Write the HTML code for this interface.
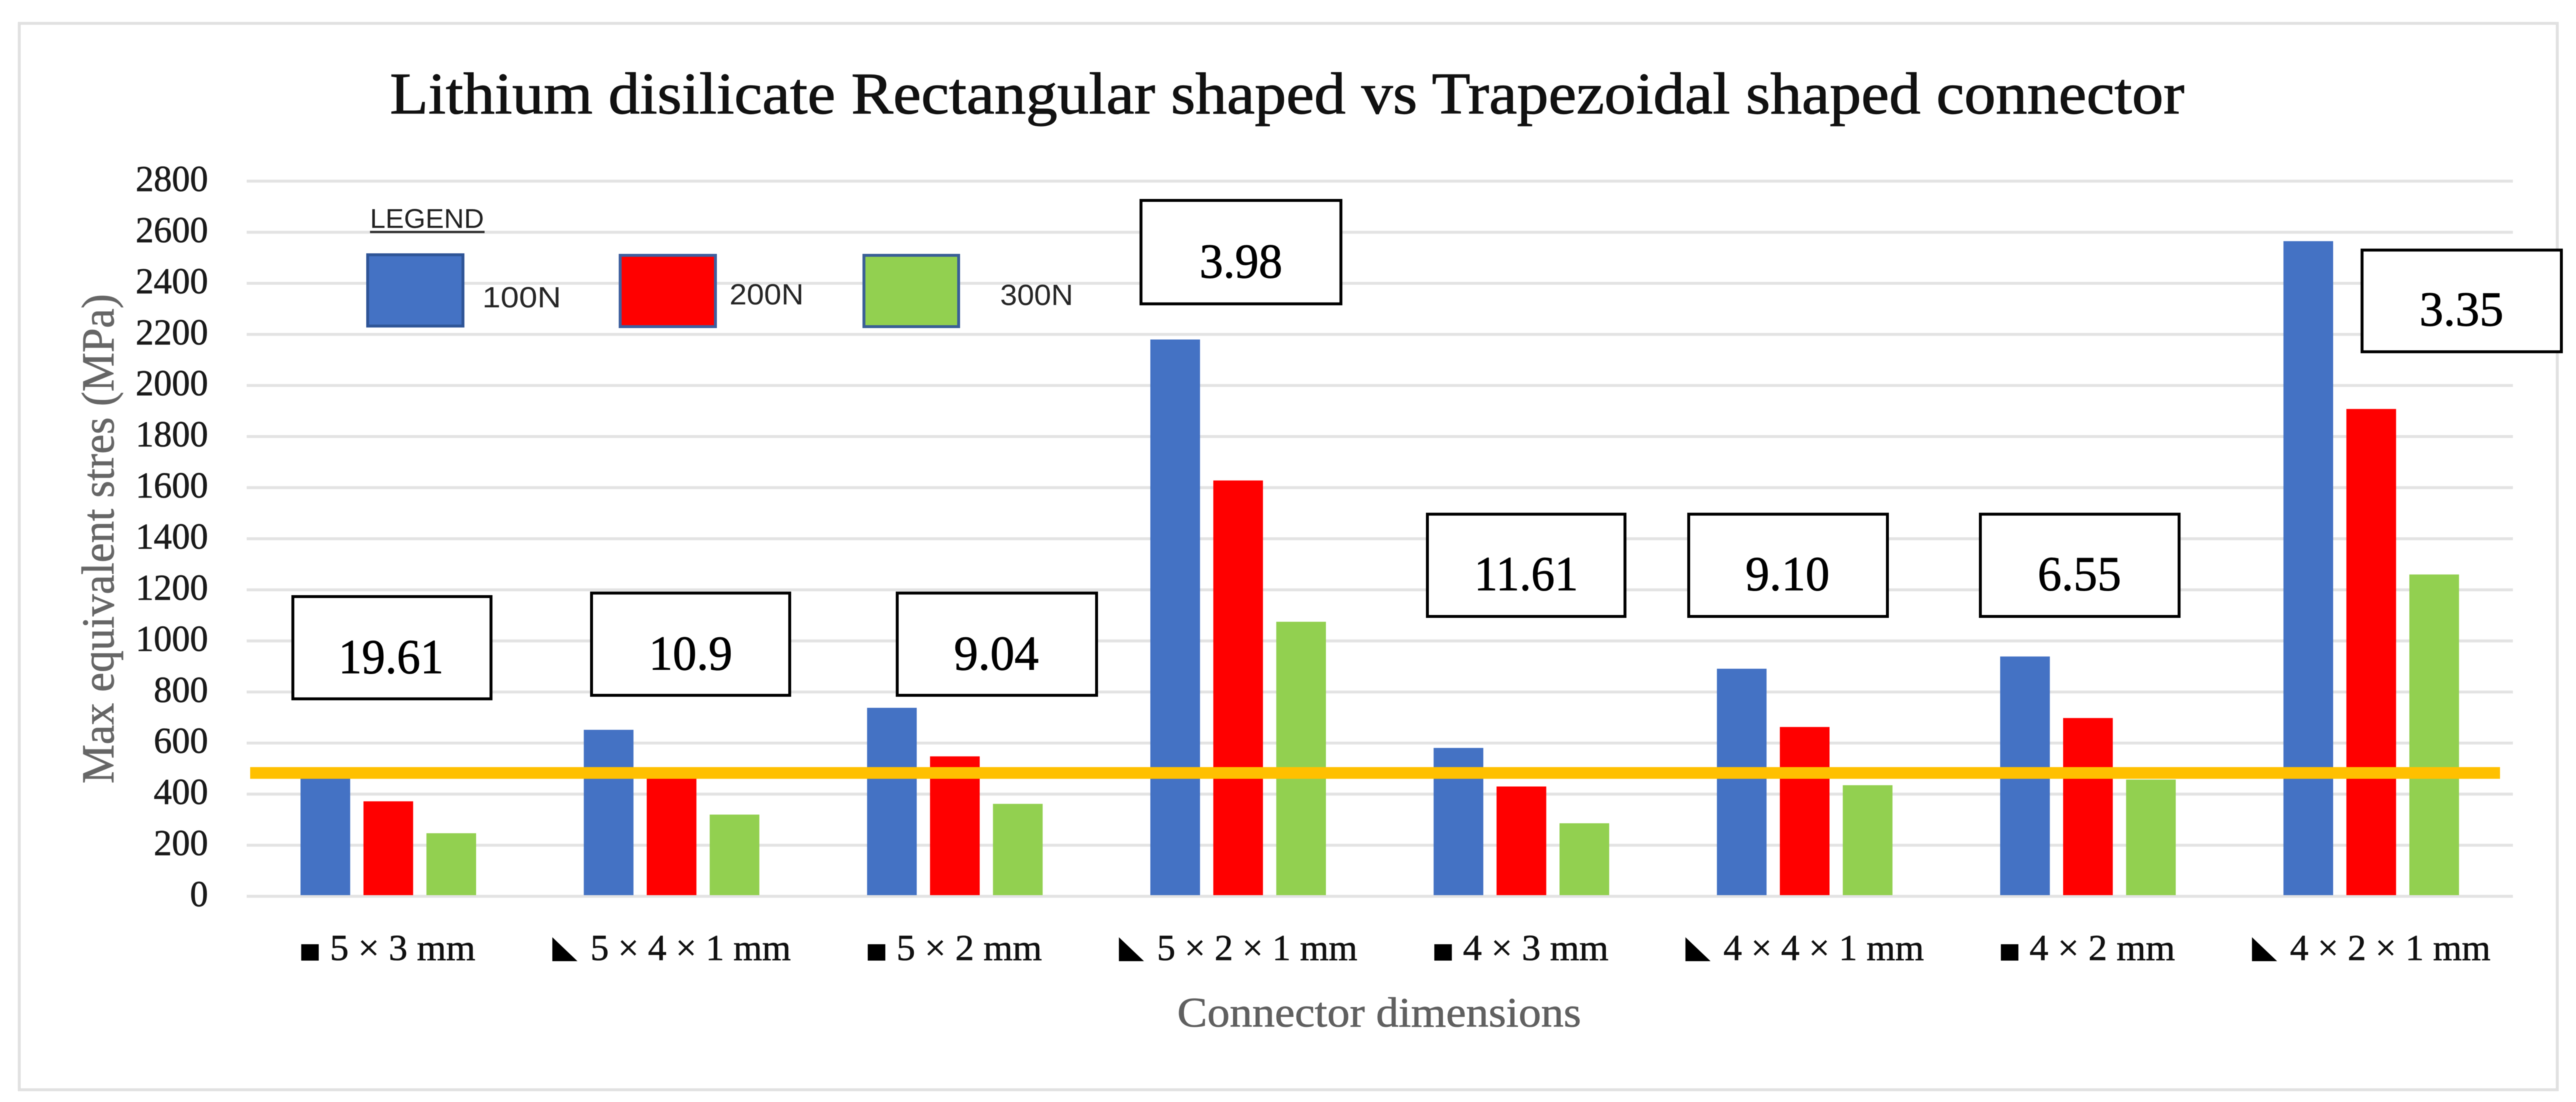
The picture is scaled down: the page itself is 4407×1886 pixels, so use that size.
<!DOCTYPE html>
<html lang="en">
<head>
<meta charset="utf-8">
<title>Lithium disilicate Rectangular shaped vs Trapezoidal shaped connector</title>
<style>
  html, body { margin: 0; padding: 0; background: #ffffff; }
  body { width: 4407px; height: 1886px; overflow: hidden; }
  svg { display: block; filter: blur(0.8px); }
  text { font-family: "Liberation Serif", serif; }
  .sans { font-family: "Liberation Sans", sans-serif; }
</style>
</head>
<body>
<svg id="chart" xmlns="http://www.w3.org/2000/svg" width="4407" height="1886" viewBox="0 0 4407 1886">
  <rect x="0" y="0" width="4407" height="1886" fill="#ffffff"/>
  <rect x="33" y="40" width="4342" height="1825" fill="#ffffff" stroke="#e1e1e1" stroke-width="5"/>
  <text x="667" y="194" font-size="101" fill="#111111" stroke="#111111" stroke-width="1.2" textLength="3070" lengthAdjust="spacingAndGlyphs">Lithium disilicate Rectangular shaped vs Trapezoidal shaped connector</text>
  <text transform="translate(194 1341) rotate(-90)" font-size="78" fill="#666666" stroke="#666666" stroke-width="0.8" textLength="838" lengthAdjust="spacingAndGlyphs">Max equivalent stres (MPa)</text>
  <text x="2014" y="1757" font-size="72" fill="#606060" stroke="#606060" stroke-width="0.8" textLength="691" lengthAdjust="spacingAndGlyphs">Connector dimensions</text>
  <g id="grid-layer"></g>
  <g id="ytick-layer"></g>
  <g id="bar-layer"></g>
  <g id="xtick-layer"></g>
  <g id="limit-layer"></g>

  <g>
    <text class="sans" x="633" y="390" font-size="46" fill="#222222" textLength="195" lengthAdjust="spacingAndGlyphs">LEGEND</text>
    <rect x="633" y="395" width="196" height="4" fill="#333333"/>
    <rect x="629" y="436" width="163" height="122" fill="#4472c4" stroke="#2f5597" stroke-width="5"/>
    <text class="sans" x="825" y="526" font-size="50" fill="#262626" textLength="135" lengthAdjust="spacingAndGlyphs">100N</text>
    <rect x="1061" y="437" width="163" height="122" fill="#ff0000" stroke="#3f5f9f" stroke-width="5"/>
    <text class="sans" x="1248" y="521" font-size="50" fill="#262626" textLength="127" lengthAdjust="spacingAndGlyphs">200N</text>
    <rect x="1478" y="437" width="162" height="122" fill="#92d050" stroke="#3a5f96" stroke-width="5"/>
    <text class="sans" x="1711" y="522" font-size="50" fill="#262626" textLength="125" lengthAdjust="spacingAndGlyphs">300N</text>
  </g>

  <g fill="#ffffff" stroke="#000000" stroke-width="5">
    <rect x="501" y="1021" width="339" height="175"/>
    <rect x="1012" y="1015" width="339" height="175"/>
    <rect x="1535" y="1015" width="341" height="175"/>
    <rect x="1952" y="343" width="342" height="177"/>
    <rect x="2442" y="880" width="338" height="175"/>
    <rect x="2889" y="880" width="340" height="175"/>
    <rect x="3388" y="880" width="340" height="175"/>
    <rect x="4041" y="428" width="341" height="174"/>
  </g>
  <g font-size="84" fill="#000000" stroke="#000000" stroke-width="1">
    <text x="579" y="1152" textLength="180" lengthAdjust="spacingAndGlyphs">19.61</text>
    <text x="1110" y="1146" textLength="143" lengthAdjust="spacingAndGlyphs">10.9</text>
    <text x="1632" y="1146" textLength="145" lengthAdjust="spacingAndGlyphs">9.04</text>
    <text x="2052" y="475" textLength="142" lengthAdjust="spacingAndGlyphs">3.98</text>
    <text x="2522" y="1010" textLength="178" lengthAdjust="spacingAndGlyphs">11.61</text>
    <text x="2986" y="1010" textLength="144" lengthAdjust="spacingAndGlyphs">9.10</text>
    <text x="3486" y="1010" textLength="143" lengthAdjust="spacingAndGlyphs">6.55</text>
    <text x="4139" y="557" textLength="144" lengthAdjust="spacingAndGlyphs">3.35</text>
  </g>
</svg>
<script>
var categories = ['5 × 3 mm', '5 × 4 × 1 mm', '5 × 2 mm', '5 × 2 × 1 mm', '4 × 3 mm', '4 × 4 × 1 mm', '4 × 2 mm', '4 × 2 × 1 mm'];
var connectorShapes = ['square', 'triangle', 'square', 'triangle', 'square', 'triangle', 'square', 'triangle'];
var values100N = [480, 652, 738, 2180, 581, 891, 939, 2565];
var values200N = [372, 490, 548, 1628, 430, 663, 698, 1908];
var values300N = [247, 320, 362, 1075, 286, 435, 457, 1260];
var tickLabels = [0, 200, 400, 600, 800, 1000, 1200, 1400, 1600, 1800, 2000, 2200, 2400, 2600, 2800];
var limitValue = [483];

var NS = 'http://www.w3.org/2000/svg';
var plotLeft = 422, plotRight = 4299, yZero = 1534, yTop = 310, yMax = 2800;

function yScale(v) {
  return yZero - v * (yZero - yTop) / yMax;
}
function xCenter(i) {
  return plotLeft + (i + 0.5) * (plotRight - plotLeft) / categories.length;
}
function make(tag, attrs) {
  var el = document.createElementNS(NS, tag);
  for (var k in attrs) { el.setAttribute(k, attrs[k]); }
  return el;
}

var gridLayer = document.getElementById('grid-layer');
var ytickLayer = document.getElementById('ytick-layer');
tickLabels.forEach(function (t) {
  var line = make('rect', { x: plotLeft, y: yScale(t) - 2.5, width: plotRight - plotLeft, height: 5, fill: '#e3e3e3' });
  
  
  gridLayer.appendChild(line);
  var label = make('text', { x: 356, y: yScale(t) + 17, 'font-size': 62, 'text-anchor': 'end', fill: '#1a1a1a', stroke: '#1a1a1a', 'stroke-width': 0.8 });
  
  
  label.textContent = String(t);
  ytickLayer.appendChild(label);
});

var barLayer = document.getElementById('bar-layer');
var seriesList = [values100N, values200N, values300N];
var seriesColors = ['#4472c4', '#ff0000', '#92d050'];
var barWidth = 85, barStep = 107.7;
seriesList.forEach(function (series, s) {
  series.forEach(function (v, i) {
    var bar = make('rect', {
      x: xCenter(i) + (s - 1) * barStep - barWidth / 2,
      y: yScale(v),
      width: barWidth,
      height: yZero - 2 - yScale(v),
      fill: seriesColors[s]
    });
    
    
    barLayer.appendChild(bar);
  });
});

var limitLayer = document.getElementById('limit-layer');
var limitLine = make('rect', { x: 428, y: yScale(limitValue[0]) - 10, width: 3849, height: 20, fill: '#ffc000' });


limitLayer.appendChild(limitLine);

var xtickLayer = document.getElementById('xtick-layer');
categories.forEach(function (c, i) {
  var cx = xCenter(i);
  var isSquare = connectorShapes[i] === 'square';
  var marker;
  if (isSquare) {
    marker = make('rect', { x: cx - 149, y: 1616, width: 30, height: 28, fill: '#000000' });
  } else {
    marker = make('polygon', {
      points: (cx - 204) + ',1604 ' + (cx - 204) + ',1645 ' + (cx - 161) + ',1645',
      fill: '#000000'
    });
  }
  
  
  xtickLayer.appendChild(marker);
  var label = make('text', {
    x: isSquare ? cx - 100 : cx - 139,
    y: 1643,
    'font-size': 62,
    fill: '#111111',
    stroke: '#111111',
    'stroke-width': 0.8,
    textLength: isSquare ? 249 : 343,
    lengthAdjust: 'spacingAndGlyphs'
  });
  
  
  label.textContent = c;
  xtickLayer.appendChild(label);
});
</script>
</body>
</html>
